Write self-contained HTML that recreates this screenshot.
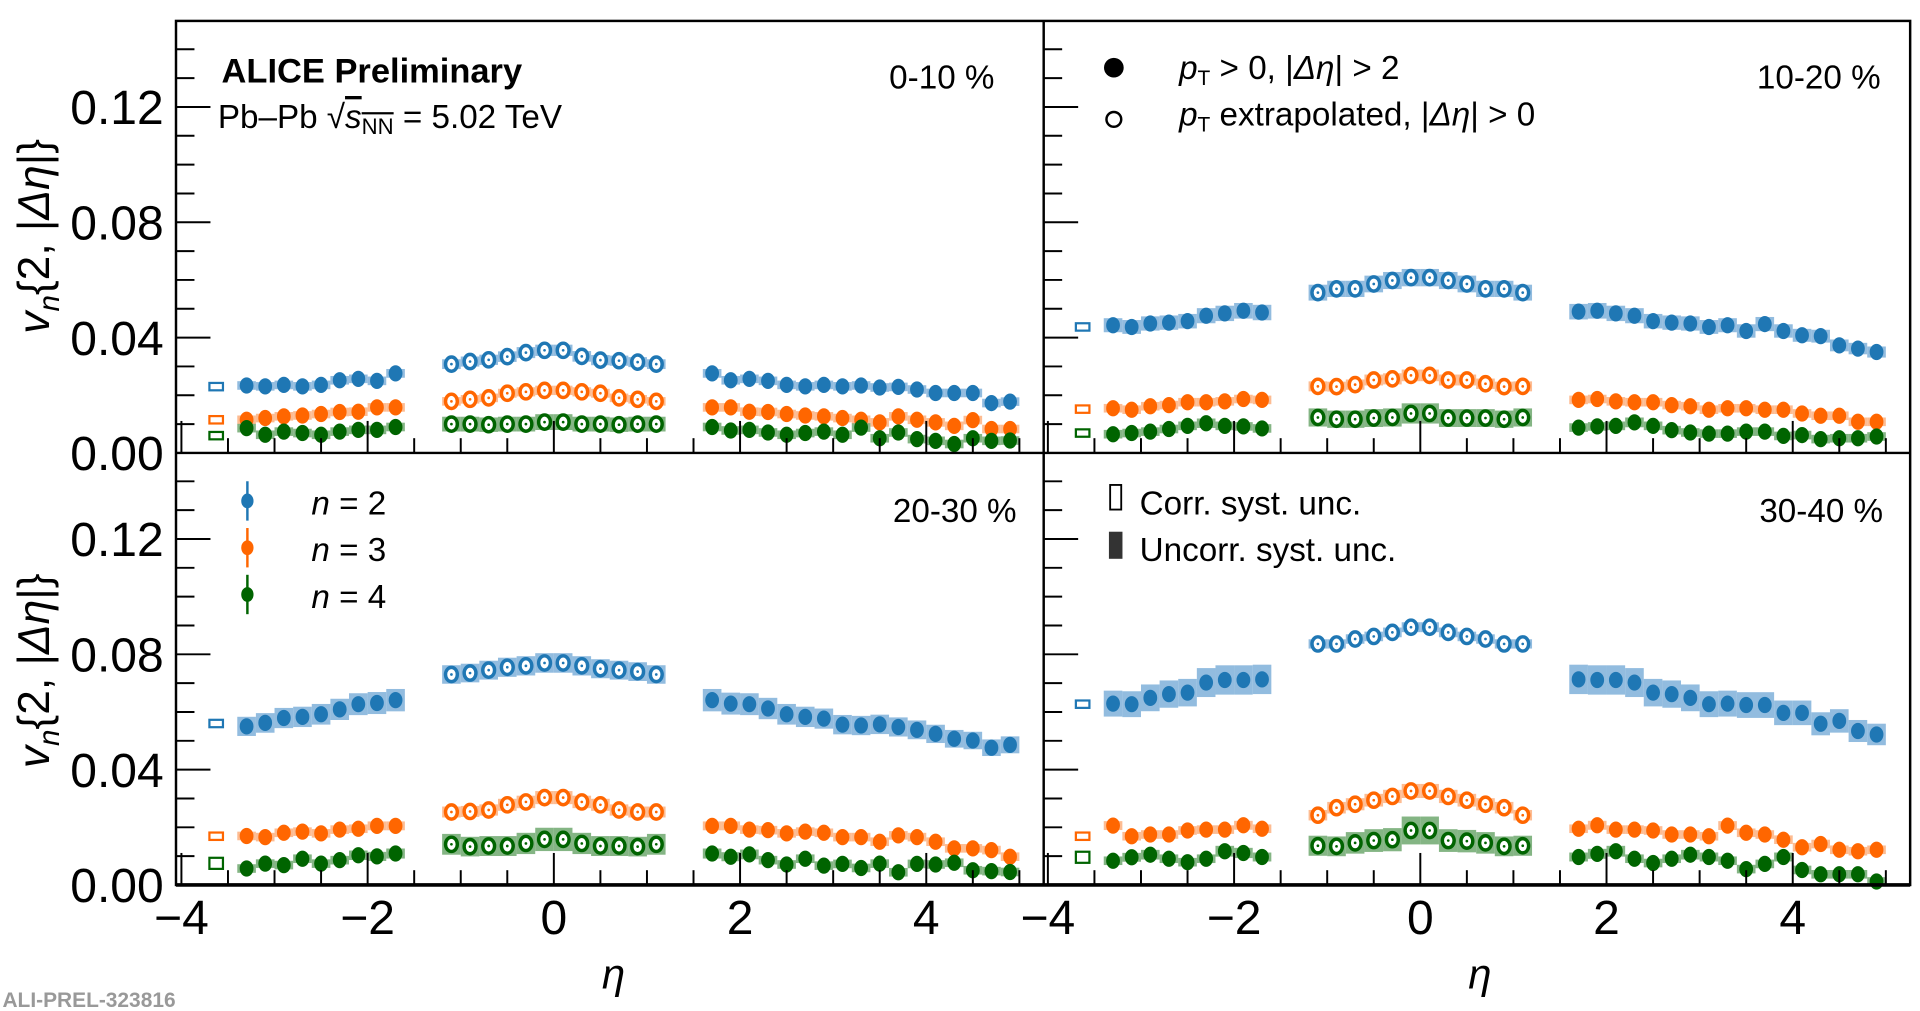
<!DOCTYPE html>
<html><head><meta charset="utf-8">
<style>
html,body{margin:0;padding:0;background:#fff;width:1920px;height:1011px;overflow:hidden}
svg{display:block}
text{font-family:"Liberation Sans",sans-serif}
</style></head>
<body>
<svg id="chart" width="1920" height="1011" viewBox="0 0 1560 821.4" preserveAspectRatio="none" xmlns="http://www.w3.org/2000/svg">
  <g id="marks"></g>
  <g id="axes"></g>
  <text x="180" y="67" font-size="28" font-weight="bold">ALICE Preliminary</text>
  <text x="177" y="104" font-size="27">Pb–Pb <tspan font-size="27">√</tspan><tspan font-style="italic" text-decoration="overline">s</tspan><tspan font-size="18" dy="5" text-decoration="overline">NN</tspan><tspan dy="-5"> = 5.02 TeV</tspan></text>
  <text x="808" y="72" font-size="27" text-anchor="end">0-10 %</text>
  <text x="1528" y="72" font-size="27" text-anchor="end">10-20 %</text>
  <text x="826" y="424" font-size="27" text-anchor="end">20-30 %</text>
  <text x="1530" y="424" font-size="27" text-anchor="end">30-40 %</text>
  <g>
    <circle cx="905" cy="55" r="8" fill="#000"/>
    <text x="958" y="64" font-size="27"><tspan font-style="italic">p</tspan><tspan font-size="17" dy="5">T</tspan><tspan dy="-5"> &gt; 0, |</tspan><tspan font-style="italic">Δη</tspan>| &gt; 2</text>
    <circle cx="905" cy="97" r="6" fill="none" stroke="#000" stroke-width="2"/>
    <text x="958" y="102" font-size="27"><tspan font-style="italic">p</tspan><tspan font-size="17" dy="5">T</tspan><tspan dy="-5"> extrapolated, |</tspan><tspan font-style="italic">Δη</tspan>| &gt; 0</text>
  </g>
  <g>
    <line x1="201" y1="391" x2="201" y2="423" stroke="#1f77b4" stroke-width="2"/><ellipse cx="201" cy="407" rx="5" ry="6" fill="#1f77b4"/>
    <text x="253" y="418" font-size="27"><tspan font-style="italic">n</tspan> = 2</text>
    <line x1="201" y1="429" x2="201" y2="461" stroke="#ff6600" stroke-width="2"/><ellipse cx="201" cy="445" rx="5" ry="6" fill="#ff6600"/>
    <text x="253" y="456" font-size="27"><tspan font-style="italic">n</tspan> = 3</text>
    <line x1="201" y1="467" x2="201" y2="499" stroke="#006400" stroke-width="2"/><ellipse cx="201" cy="483" rx="5" ry="6" fill="#006400"/>
    <text x="253" y="494" font-size="27"><tspan font-style="italic">n</tspan> = 4</text>
  </g>
  <g>
    <rect x="902" y="394" width="9" height="20" fill="none" stroke="#000" stroke-width="1.5"/>
    <text x="926" y="418" font-size="27">Corr. syst. unc.</text>
    <rect x="901" y="432" width="11" height="22" fill="#333"/>
    <text x="926" y="456" font-size="27">Uncorr. syst. unc.</text>
  </g>
  <text transform="translate(40,192) rotate(-90)" font-size="36" text-anchor="middle"><tspan font-style="italic">v</tspan><tspan font-style="italic" font-size="24" dy="8">n</tspan><tspan dy="-8">{2, |</tspan><tspan font-style="italic">Δη</tspan>|}</text>
  <text transform="translate(40,545) rotate(-90)" font-size="36" text-anchor="middle"><tspan font-style="italic">v</tspan><tspan font-style="italic" font-size="24" dy="8">n</tspan><tspan dy="-8">{2, |</tspan><tspan font-style="italic">Δη</tspan>|}</text>
  <text x="489" y="803" font-size="34" font-style="italic" font-family="Liberation Serif">η</text>
  <text x="1193" y="803" font-size="34" font-style="italic" font-family="Liberation Serif">η</text>
  <text x="2" y="818" font-size="17" fill="#999" font-family="Liberation Mono" font-weight="bold">ALI-PREL-323816</text>
</svg>
<script>
const etaL = [-3.3,-3.1,-2.9,-2.7,-2.5,-2.3,-2.1,-1.9,-1.7];
const etaM = [-1.1,-0.9,-0.7,-0.5,-0.3,-0.1,0.1,0.3,0.5,0.7,0.9,1.1];
const etaR = [1.7,1.9,2.1,2.3,2.5,2.7,2.9,3.1,3.3,3.5,3.7,3.9,4.1,4.3,4.5,4.7,4.9];
const yTicks = [0, 0.04, 0.08, 0.12];
const yTickLabels = ["0.00","0.04","0.08","0.12"];
const xTicks = [-4,-2,0,2,4];
const xTickLabels = ["−4","−2","0","2","4"];
const centralities = ["0-10","10-20","20-30","30-40"];

// 0-10 %
const c0_v2 = [0.0234,0.0231,0.0236,0.0231,0.0236,0.0252,0.0257,0.0250,0.0276, 0.0308,0.0317,0.0323,0.0334,0.0348,0.0356,0.0356,0.0335,0.0322,0.0320,0.0315,0.0308, 0.0276,0.0252,0.0257,0.0250,0.0236,0.0231,0.0236,0.0231,0.0234,0.0227,0.0229,0.0220,0.0208,0.0208,0.0208,0.0173,0.0178];
const c0_v3 = [0.0115,0.0121,0.0127,0.0130,0.0135,0.0142,0.0143,0.0158,0.0158, 0.0179,0.0186,0.0191,0.0207,0.0212,0.0217,0.0217,0.0212,0.0207,0.0191,0.0186,0.0179, 0.0158,0.0158,0.0143,0.0142,0.0135,0.0130,0.0127,0.0121,0.0115,0.0106,0.0127,0.0115,0.0106,0.0094,0.0114,0.0083,0.0083];
const c0_v4 = [0.0086,0.0063,0.0074,0.0069,0.0063,0.0074,0.0080,0.0080,0.0090, 0.0100,0.0100,0.0098,0.0100,0.0100,0.0107,0.0107,0.0100,0.0100,0.0098,0.0100,0.0100, 0.0090,0.0078,0.0080,0.0071,0.0063,0.0069,0.0074,0.0063,0.0088,0.0051,0.0071,0.0048,0.0042,0.0031,0.0051,0.0042,0.0043];
const c0_corr = [0.0230,0.0115,0.0060];
// 10-20 %
const c1_v2 = [0.0443,0.0437,0.0449,0.0452,0.0457,0.0476,0.0484,0.0493,0.0487, 0.0556,0.0569,0.0569,0.0586,0.0598,0.0608,0.0608,0.0598,0.0586,0.0569,0.0569,0.0556, 0.0490,0.0493,0.0484,0.0476,0.0457,0.0452,0.0449,0.0437,0.0443,0.0423,0.0447,0.0423,0.0408,0.0405,0.0373,0.0362,0.0350];
const c1_v3 = [0.0155,0.0150,0.0162,0.0166,0.0176,0.0176,0.0179,0.0187,0.0184, 0.0231,0.0230,0.0237,0.0253,0.0257,0.0269,0.0269,0.0253,0.0253,0.0240,0.0230,0.0231, 0.0184,0.0187,0.0179,0.0176,0.0176,0.0166,0.0162,0.0150,0.0155,0.0155,0.0150,0.0150,0.0137,0.0129,0.0129,0.0108,0.0108];
const c1_v4 = [0.0065,0.0069,0.0074,0.0083,0.0094,0.0103,0.0094,0.0092,0.0085, 0.0123,0.0117,0.0117,0.0121,0.0123,0.0137,0.0137,0.0121,0.0121,0.0121,0.0117,0.0123, 0.0088,0.0092,0.0094,0.0106,0.0094,0.0079,0.0071,0.0067,0.0067,0.0074,0.0074,0.0059,0.0062,0.0048,0.0051,0.0051,0.0057];
const c1_corr = [0.0437,0.0152,0.0069];
// 20-30 %
const c2_v2 = [0.0550,0.0562,0.0579,0.0583,0.0592,0.0609,0.0627,0.0631,0.0641, 0.0730,0.0735,0.0745,0.0755,0.0760,0.0770,0.0770,0.0760,0.0750,0.0745,0.0740,0.0730, 0.0641,0.0629,0.0627,0.0612,0.0592,0.0583,0.0577,0.0556,0.0553,0.0557,0.0548,0.0538,0.0524,0.0507,0.0501,0.0476,0.0486];
const c2_v3 = [0.0170,0.0166,0.0181,0.0185,0.0179,0.0192,0.0195,0.0205,0.0205, 0.0253,0.0255,0.0260,0.0278,0.0288,0.0303,0.0303,0.0288,0.0278,0.0260,0.0253,0.0253, 0.0205,0.0205,0.0192,0.0190,0.0179,0.0185,0.0181,0.0166,0.0166,0.0150,0.0172,0.0166,0.0150,0.0127,0.0127,0.0121,0.0098];
const c2_v4 = [0.0057,0.0074,0.0069,0.0091,0.0074,0.0086,0.0103,0.0099,0.0109, 0.0141,0.0133,0.0135,0.0135,0.0144,0.0158,0.0158,0.0144,0.0135,0.0135,0.0133,0.0141, 0.0109,0.0098,0.0106,0.0086,0.0071,0.0091,0.0067,0.0073,0.0059,0.0074,0.0044,0.0073,0.0071,0.0077,0.0051,0.0048,0.0045];
const c2_corr = [0.0560,0.0169,0.0075];
// 30-40 %
const c3_v2 = [0.0629,0.0627,0.0649,0.0662,0.0667,0.0702,0.0711,0.0711,0.0713, 0.0836,0.0836,0.0853,0.0862,0.0876,0.0894,0.0894,0.0876,0.0862,0.0853,0.0836,0.0836, 0.0713,0.0711,0.0711,0.0702,0.0667,0.0662,0.0649,0.0627,0.0629,0.0624,0.0624,0.0597,0.0597,0.0559,0.0569,0.0534,0.0522];
const c3_v3 = [0.0206,0.0169,0.0175,0.0175,0.0189,0.0192,0.0192,0.0207,0.0195, 0.0242,0.0268,0.0280,0.0294,0.0307,0.0326,0.0326,0.0307,0.0294,0.0280,0.0268,0.0242, 0.0195,0.0207,0.0192,0.0192,0.0189,0.0175,0.0175,0.0169,0.0206,0.0181,0.0175,0.0157,0.0131,0.0142,0.0122,0.0117,0.0122];
const c3_v4 = [0.0084,0.0096,0.0105,0.0091,0.0079,0.0091,0.0117,0.0111,0.0097, 0.0136,0.0134,0.0146,0.0154,0.0157,0.0189,0.0189,0.0154,0.0152,0.0146,0.0134,0.0136, 0.0097,0.0108,0.0117,0.0091,0.0076,0.0091,0.0105,0.0097,0.0084,0.0055,0.0073,0.0097,0.0052,0.0037,0.0037,0.0037,0.0012];
const c3_corr = [0.0627,0.0169,0.0096];

const sysRel = [0.055, 0.075, 0.16];

const NS = "http://www.w3.org/2000/svg";
const marks = document.getElementById("marks");
const axes = document.getElementById("axes");
function mk(parent, tag, attrs){ const e=document.createElementNS(NS,tag); for(const k in attrs) e.setAttribute(k,attrs[k]); parent.appendChild(e); return e; }

const panels = [
  {x0:450, yb:368, left:143, right:848, top:17,  v:[c0_v2,c0_v3,c0_v4], corr:c0_corr, midBlue:1, sideBlue:1},
  {x0:1154,yb:368, left:848, right:1552,top:17,  v:[c1_v2,c1_v3,c1_v4], corr:c1_corr, midBlue:0.9, sideBlue:1},
  {x0:450, yb:719, left:143, right:848, top:368, v:[c2_v2,c2_v3,c2_v4], corr:c2_corr, midBlue:0.8, sideBlue:1.1},
  {x0:1154,yb:719, left:848, right:1552,top:368, v:[c3_v2,c3_v3,c3_v4], corr:c3_corr, midBlue:0.35, sideBlue:1.3}
];
const PX_PER_ETA = 75.65, PX_PER_V = 2342.5;
const markerCol = ["#1f77b4","#ff6600","#006400"];
const sysCol = ["#7fb0d9","#fdb07f","#6fa86f"];
const allEta = etaL.concat(etaM, etaR);

panels.forEach((p, pi) => {
  const xs = eta => p.x0 + eta*PX_PER_ETA;
  const ys = v => p.yb - v*PX_PER_V;
  const g = mk(marks,"g",{});
  
  
  p.v.forEach((vals, si) => {
    const sg = mk(g,"g",{});
    
    
    const cv = p.corr[si];
    const ch = (si===2 && pi>=2) ? 9 : 6;
    const cb = mk(sg,"rect",{x:xs(-3.62)-6, y:ys(cv)-ch/2, width:11, height:ch, fill:"none", stroke:markerCol[si], "stroke-width":1.8});
    
    
    vals.forEach((v, i) => {
      const e = allEta[i];
      const mid = (i>=9 && i<21);
      let f = 1;
      if(si===2 && mid) f = 1.6;
      if(si===0) f = mid ? p.midBlue : p.sideBlue;
      const h = Math.max(7, v*sysRel[si]*2*PX_PER_V*f);
      const r = mk(sg,"rect",{x:xs(e-0.1), y:ys(v)-h/2, width:0.2*PX_PER_ETA, height:h, fill:sysCol[si], opacity:0.85});
      
      
    });
    vals.forEach((v, i) => {
      const e = allEta[i];
      const open = (i>=9 && i<21);
      if(open){
        const c = mk(sg,"ellipse",{cx:xs(e), cy:ys(v), rx:4.8, ry:5.8, fill:"#fff", stroke:markerCol[si], "stroke-width":2.8});
        
        
        const d = mk(sg,"circle",{cx:xs(e), cy:ys(v), r:1.1, fill:markerCol[si]});
        
        
      } else {
        const c = mk(sg,"ellipse",{cx:xs(e), cy:ys(v), rx:5.6, ry:6.6, fill:markerCol[si]});
        
        
      }
    });
  });
  for(let k=0;k<=14;k++){
    const v = k*0.01;
    const y = ys(v);
    if(y < p.top+1) continue;
    const major = (k%4===0);
    const t = mk(axes,"line",{x1:p.left, x2:p.left+(major?28:15), y1:y, y2:y, stroke:"#000", "stroke-width":1.6});
    
    
  }
  for(let k=-8;k<=10;k++){
    const e = k*0.5;
    const x = xs(e);
    if(x < p.left+2 || x > p.right-2) continue;
    const major = (k%4===0);
    const t = mk(axes,"line",{x1:x, x2:x, y1:p.yb, y2:p.yb-(major?26:12), stroke:"#000", "stroke-width":1.6});
    
    
  }
  if(pi===0 || pi===2){
    yTicks.forEach((v, i) => {
      const t = mk(axes,"text",{x:133, y:ys(v)+14, "font-size":39, "text-anchor":"end"});
      t.textContent = yTickLabels[i];
      
      
    });
  }
  if(pi>=2){
    xTicks.forEach((e, i) => {
      const t = mk(axes,"text",{x:xs(e), y:759, "font-size":39, "text-anchor":"middle"});
      t.textContent = xTickLabels[i];
      
      
    });
  }
});
const fr = mk(axes,"rect",{x:143, y:17, width:1409, height:702, fill:"none", stroke:"#000", "stroke-width":2});


const bl = mk(axes,"line",{x1:143, x2:1552, y1:719, y2:719, stroke:"#000", "stroke-width":3});


const vl = mk(axes,"line",{x1:848, x2:848, y1:17, y2:719, stroke:"#000", "stroke-width":2});


const hl = mk(axes,"line",{x1:143, x2:1552, y1:368, y2:368, stroke:"#000", "stroke-width":2});


</script>
</body></html>
